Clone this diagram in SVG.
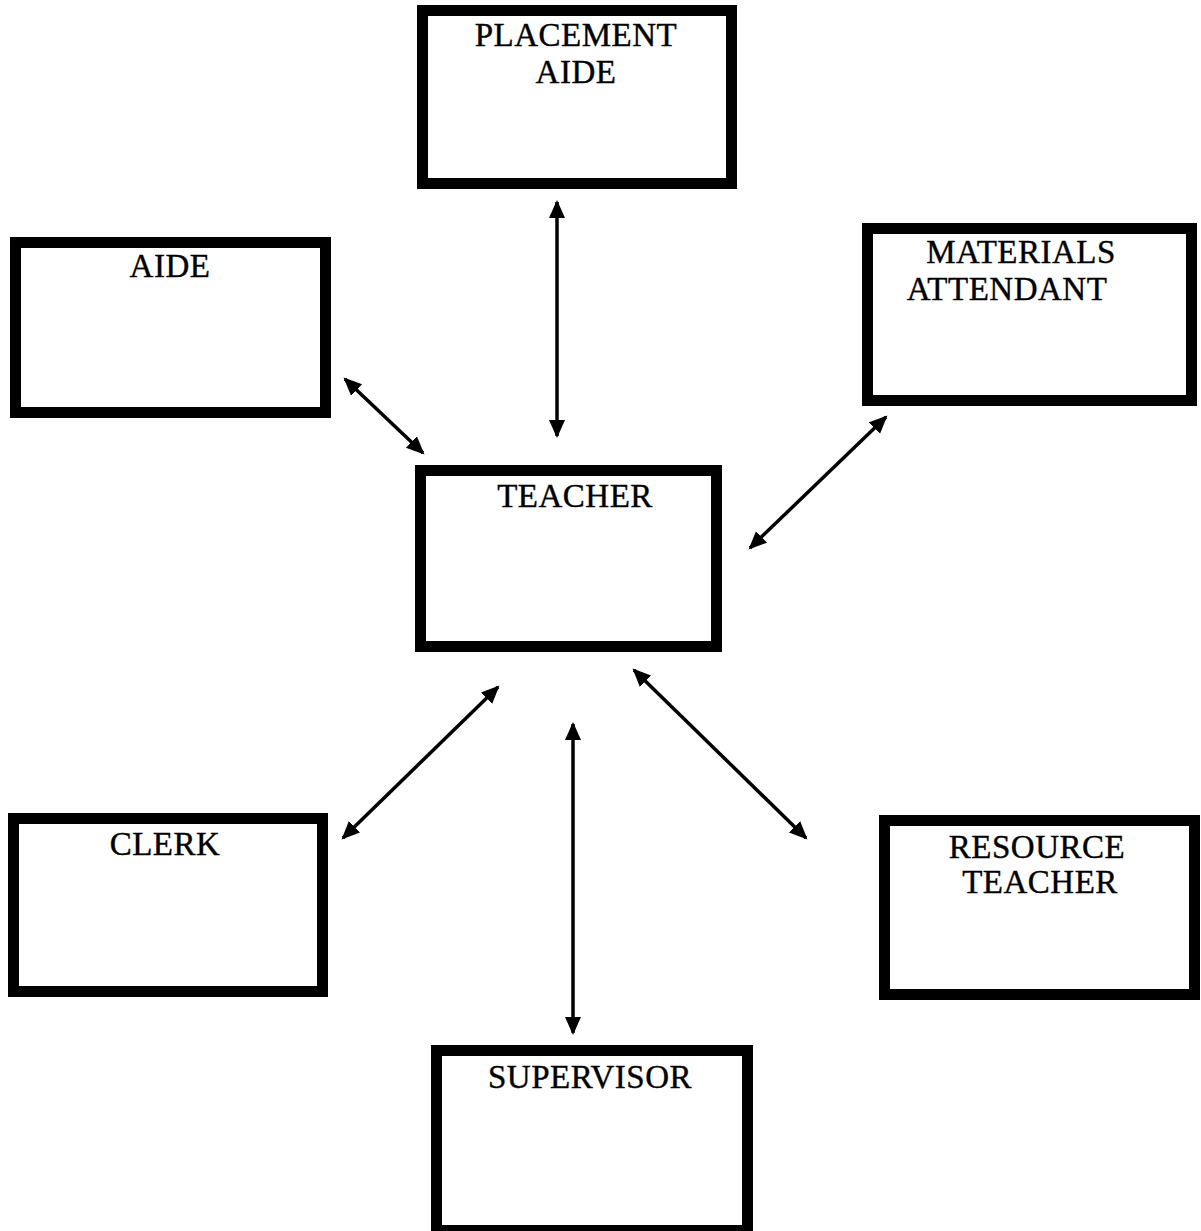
<svg xmlns="http://www.w3.org/2000/svg" width="1201" height="1231" viewBox="0 0 1201 1231">
<style>
.box{fill:#fff;stroke:#000;stroke-width:11}
.lbl{font-family:"Liberation Serif","Times New Roman",serif;font-size:33px;letter-spacing:0.5px;fill:#000;text-anchor:middle;stroke:#000;stroke-width:0.4}
.conn{stroke:#000;stroke-width:3.5;fill:none;marker-start:url(#ah);marker-end:url(#ah)}
</style>
<defs>
<marker id="ah" markerUnits="userSpaceOnUse" markerWidth="20" markerHeight="18" refX="16" refY="8" orient="auto-start-reverse">
<path d="M0,0 L18,8 L0,16 Z" fill="#000"/>
</marker>
</defs>
<rect width="1201" height="1231" fill="#fff"/>
<g id="placement-aide">
<rect class="box" x="422.5" y="10.5" width="309" height="173"/>
<text class="lbl" x="576" y="46">PLACEMENT</text>
<text class="lbl" x="576" y="83">AIDE</text>
</g>
<g id="aide">
<rect class="box" x="15.5" y="242.5" width="310" height="170"/>
<text class="lbl" x="170" y="277">AIDE</text>
</g>
<g id="materials-attendant">
<rect class="box" x="867.5" y="228.5" width="324" height="172"/>
<text class="lbl" x="1021" y="263">MATERIALS</text>
<text class="lbl" x="1007" y="300">ATTENDANT</text>
</g>
<g id="teacher">
<rect class="box" x="420.5" y="470.5" width="296" height="176"/>
<text class="lbl" x="575" y="507">TEACHER</text>
</g>
<g id="clerk">
<rect class="box" x="13.5" y="818.5" width="309" height="173"/>
<text class="lbl" x="165" y="855">CLERK</text>
</g>
<g id="resource-teacher">
<rect class="box" x="884.5" y="820.5" width="310" height="174"/>
<text class="lbl" x="1037" y="858">RESOURCE</text>
<text class="lbl" x="1040" y="893">TEACHER</text>
</g>
<g id="supervisor">
<rect class="box" x="436.5" y="1050.5" width="311" height="180"/>
<text class="lbl" x="590" y="1088">SUPERVISOR</text>
</g>
<g id="connectors">
<line class="conn" x1="557" y1="202" x2="557" y2="436"/>
<line class="conn" x1="345" y1="379" x2="423" y2="453"/>
<line class="conn" x1="886" y1="417" x2="750" y2="548"/>
<line class="conn" x1="498" y1="687" x2="343" y2="838"/>
<line class="conn" x1="573" y1="724" x2="573" y2="1033"/>
<line class="conn" x1="634" y1="670" x2="806" y2="838"/>
</g>
</svg>
